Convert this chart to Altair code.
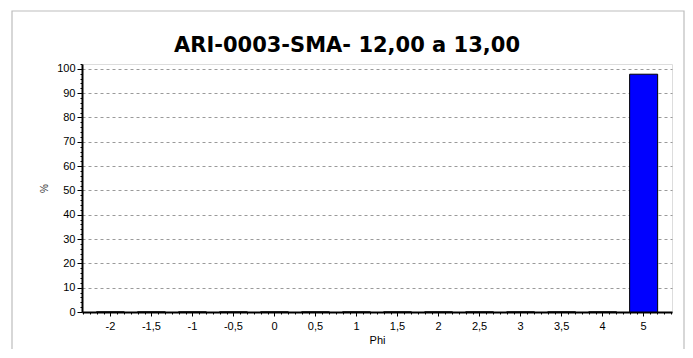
import altair as alt
import pandas as pd

# ---- data ----
phi_labels = ["-2", "-1,5", "-1", "-0,5", "0", "0,5", "1", "1,5",
              "2", "2,5", "3", "3,5", "4", "5"]
percent = [0, 0, 0, 0, 0, 0, 0, 0, 0, 0, 0, 0, 0, 97.8]
title_text = "ARI-0003-SMA- 12,00 a 13,00"
y_ticks = [0, 10, 20, 30, 40, 50, 60, 70, 80, 90, 100]

W, H = 590, 248
PAD = {"left": 74, "top": 56, "right": 13, "bottom": 37}
Y_MAX = 102
P_INNER, P_OUTER = 0.317, 0.35
n = len(phi_labels)

df = pd.DataFrame({"phi": phi_labels, "pct": percent, "idx": list(range(n))})

# linear index domain that lines up with the band centres (for minor ticks)
lo = -(P_OUTER + (1 - P_INNER) / 2)
hi = n - 0.5 - P_INNER / 2 + P_OUTER
x_minor = [k / 6 for k in range(-4, int(hi * 6) + 1) if k % 6 != 0]
y_minor = [v for v in range(0, Y_MAX + 1, 2) if v % 10 != 0]

FONT = "Liberation Sans"

one = pd.DataFrame({"t": [title_text]})

frame = alt.Chart(one).mark_rect(
    fillOpacity=0, stroke="#bdbdbd", strokeWidth=1.2
).encode(
    x=alt.value(-70), x2=alt.value(W + PAD["right"] - 1),
    y=alt.value(-53), y2=alt.value(H + PAD["bottom"] + 10)
)

title = alt.Chart(one).mark_text(
    font="DejaVu Sans", fontSize=21, fontWeight="bold", color="#000000",
    align="center", baseline="alphabetic"
).encode(text="t:N", x=alt.value(265), y=alt.value(-12.5))

bars = alt.Chart(df).mark_bar(
    color="#0000ff", stroke="#000000", strokeWidth=1
).encode(
    x=alt.X("phi:N", sort=phi_labels,
            scale=alt.Scale(paddingInner=P_INNER, paddingOuter=P_OUTER),
            axis=alt.Axis(title="Phi", labelAngle=0, orient="bottom",
                          tickSize=4, tickColor="#000000", tickWidth=1,
                          labelPadding=4, labelFontSize=11, labelFont=FONT,
                          labelColor="#000000", titleFont=FONT,
                          titleFontSize=11, titleFontWeight="normal",
                          titleColor="#000000", titlePadding=3,
                          domainColor="#000000", domainWidth=2, grid=False)),
    y=alt.Y("pct:Q", scale=alt.Scale(domain=[0, Y_MAX], nice=False),
            axis=alt.Axis(title="%", values=y_ticks, orient="left",
                          tickSize=5, tickColor="#000000", labelPadding=2,
                          labelFontSize=11, labelFont=FONT,
                          labelColor="#000000", titleFont=FONT,
                          titleFontSize=10, titleFontWeight="normal",
                          titleColor="#333333", titlePadding=7,
                          domainColor="#000000", domainWidth=2,
                          grid=True, gridColor="#9a9a9a", gridDash=[3, 3],
                          gridWidth=1)),
)

minor = alt.Chart(df).mark_point(opacity=0).encode(
    x=alt.X("idx:Q", scale=alt.Scale(domain=[lo, hi], nice=False, zero=False),
            axis=alt.Axis(title=None, labels=False, domain=False, grid=False,
                          values=x_minor, tickSize=2, tickColor="#000000",
                          orient="bottom")),
    y=alt.Y("pct:Q", scale=alt.Scale(domain=[0, Y_MAX], nice=False),
            axis=alt.Axis(title=None, labels=False, domain=False, grid=False,
                          values=y_minor, tickSize=2, tickColor="#000000",
                          orient="left")),
)

chart = alt.layer(frame, bars, minor, title).resolve_scale(
    x="independent"
).resolve_axis(
    x="independent", y="independent"
).properties(
    width=W, height=H,
    autosize=alt.AutoSizeParams(type="none"),
    padding=PAD,
).configure_view(
    stroke="#404040", strokeWidth=1
).configure(background="#ffffff")

chart.save("out.html", embed_options={"renderer": "svg", "actions": False})
